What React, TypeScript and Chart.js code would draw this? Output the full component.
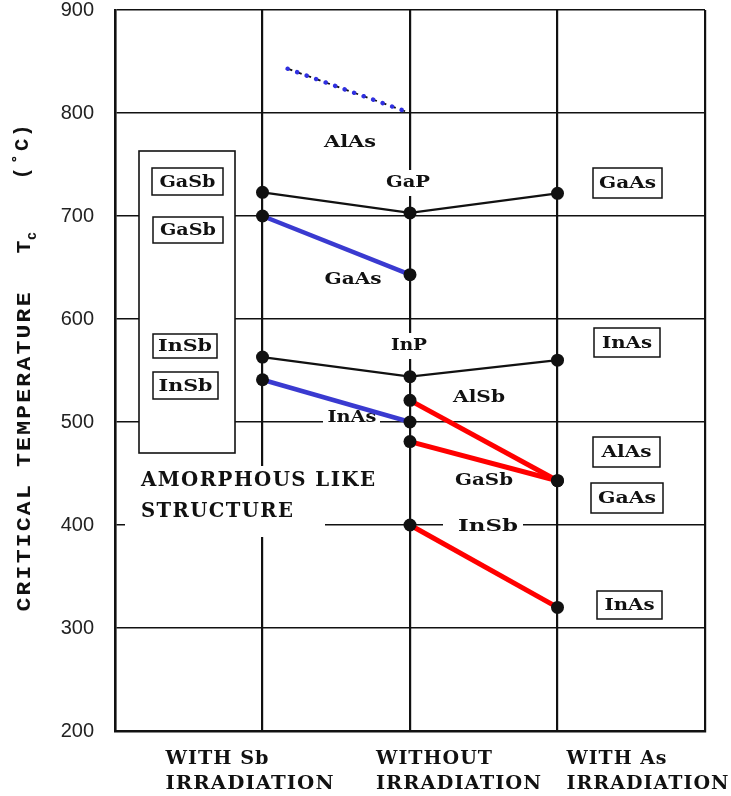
import React, { useEffect, useRef } from "react";
import { Chart, registerables } from "chart.js";

Chart.register(...registerables);

// ---- data ----
const categories = ["WITH Sb|IRRADIATION", "WITHOUT|IRRADIATION", "WITH As|IRRADIATION"];
const categoryX = [0, 1, 2];
const yTicks = [200, 300, 400, 500, 600, 700, 800, 900];

// black connecting lines across all three conditions
const upperBlack = [723, 703, 722]; // GaSb - GaP - GaAs
const lowerBlack = [563, 544, 560]; // InSb - InP - InAs
// blue lines: with Sb -> without
const gaasBlue = [700, 643];
const inasBlue = [541, 500];
// red lines: without -> with As
const alsbRed = [521, 443];
const gasbRed = [481, 443];
const insbRed = [400, 320];
// dotted AlAs extrapolation
const alasDottedX = [0.17, 1];
const alasDottedY = [843, 800];

const pts = (xs: number[], ys: number[]) => xs.map((x, i) => ({ x, y: ys[i] }));

const LABEL_FONT = "bold 17px 'DejaVu Serif'";
const AXIS_FONT = "bold 19px 'DejaVu Serif'";
const INK = "#111";

function fitText(
  ctx: CanvasRenderingContext2D,
  text: string,
  x: number,
  y: number,
  width: number,
  font: string,
  align: "center" | "left" = "center",
  spacing = 0
) {
  ctx.save();
  ctx.font = font;
  (ctx as any).letterSpacing = "0px";
  const w0 = ctx.measureText(text).width;
  const n = text.length;
  const w = w0 + (n - 1) * spacing;
  (ctx as any).letterSpacing = spacing + "px";
  const sx = width / w;
  const left = align === "center" ? x - width / 2 : x;
  ctx.textAlign = "left";
  ctx.textBaseline = "middle";
  ctx.translate(left, y);
  ctx.scale(sx, 1);
  ctx.fillText(text, 0, 0);
  ctx.restore();
}

// annotation layout (pixels)
const boxedLabels: [string, number, number, number, number, number][] = [
  ["GaSb", 152, 168, 223, 195, 56],
  ["GaSb", 153, 217, 223, 243, 56],
  ["InSb", 153, 334, 217, 358, 54],
  ["InSb", 153, 372, 218, 399, 54],
  ["GaAs", 593, 168, 662, 198, 57],
  ["InAs", 594, 328, 660, 357, 50],
  ["AlAs", 593, 437, 660, 467, 50],
  ["GaAs", 591, 483, 663, 513, 58],
  ["InAs", 597, 591, 662, 619, 50],
];
const plainLabels: [string, number, number, number, number[] | null][] = [
  ["AlAs", 350, 143, 52, null],
  ["GaP", 408, 183, 44, [381, 170, 435, 196]],
  ["GaAs", 353, 280, 57, null],
  ["InP", 409, 346, 36, [386, 333, 432, 359]],
  ["InAs", 352, 418, 49, [323, 408, 380, 428]],
  ["AlSb", 479, 398, 52, null],
  ["GaSb", 484, 481, 58, null],
  ["InSb", 488, 527, 60, [443, 512, 523, 535]],
];

const annotationPlugin = {
  id: "annotations",
  beforeDatasetsDraw(chart: any) {
    const ctx: CanvasRenderingContext2D = chart.ctx;
    ctx.save();
    // white block behind amorphous text (hides grid)
    ctx.fillStyle = "#fff";
    ctx.fillRect(125, 466, 200, 71);
    // left outer box
    ctx.fillRect(139, 151, 96, 302);
    ctx.strokeStyle = INK;
    ctx.lineWidth = 1.6;
    ctx.strokeRect(139, 151, 96, 302);
    // label backgrounds
    for (const [, , , , bg] of plainLabels) {
      if (bg) {
        ctx.fillStyle = "#fff";
        ctx.fillRect(bg[0], bg[1], bg[2] - bg[0], bg[3] - bg[1]);
      }
    }
    ctx.fillStyle = INK;
    for (const [t, cx, cy, w] of plainLabels) fitText(ctx, t, cx, cy, w, LABEL_FONT);
    for (const [t, x0, y0, x1, y1, w] of boxedLabels) {
      ctx.fillStyle = "#fff";
      ctx.fillRect(x0, y0, x1 - x0, y1 - y0);
      ctx.strokeStyle = INK;
      ctx.lineWidth = 1.5;
      ctx.strokeRect(x0, y0, x1 - x0, y1 - y0);
      ctx.fillStyle = INK;
      fitText(ctx, t, (x0 + x1) / 2, (y0 + y1) / 2 + 1, w, LABEL_FONT);
    }
    // amorphous text
    fitText(ctx, "AMORPHOUS LIKE", 141, 481, 234, "bold 21px 'DejaVu Serif'", "left", 1.5);
    fitText(ctx, "STRUCTURE", 141, 512, 152, "bold 21px 'DejaVu Serif'", "left", 1.5);
    ctx.restore();
  },
  afterDraw(chart: any) {
    const ctx: CanvasRenderingContext2D = chart.ctx;
    const xs = chart.scales.x;
    ctx.save();
    ctx.fillStyle = INK;
    // category labels
    const offsets = [-97, -34, 9];
    const w1 = [103, 116, 100];
    const w2 = [168, 165, 162];
    categories.forEach((c, i) => {
      const [a, b] = c.split("|");
      const left = xs.getPixelForValue(categoryX[i]) + offsets[i];
      fitText(ctx, a, left, 759, w1[i], AXIS_FONT, "left", 1);
      fitText(ctx, b, left, 784, w2[i], AXIS_FONT, "left", 1);
    });
    // y title
    ctx.translate(25, 0);
    ctx.rotate(-Math.PI / 2);
    const mono = "bold 21px 'Liberation Mono'";
    fitText(ctx, "CRITICAL TEMPERATURE", -452, 0, 319, mono, "center", 2);
    fitText(ctx, "T", -247, 0, 13, mono);
    fitText(ctx, "c", -236, 7, 8, "bold 14px 'Liberation Mono'");
    fitText(ctx, "(˚C)", -152, -2, 55, mono, "center", 2);
    ctx.restore();
  },
};

export default function App() {
  const ref = useRef<HTMLCanvasElement | null>(null);
  useEffect(() => {
    if (!ref.current) return;
    const dotPts = [
      ...pts(categoryX, upperBlack),
      ...pts(categoryX, lowerBlack),
      ...pts([0, 1], gaasBlue),
      ...pts([0, 1], inasBlue),
      ...pts([1, 2], alsbRed),
      ...pts([1, 2], gasbRed),
      ...pts([1, 2], insbRed),
    ];
    const lineDs = (data: any[], color: string, width: number, order: number, extra: any = {}) => ({
      data,
      showLine: true,
      borderColor: color,
      borderWidth: width,
      pointRadius: 0,
      fill: false,
      order,
      ...extra,
    });
    const chart = new Chart(ref.current, {
      type: "scatter",
      data: {
        datasets: [
          { data: dotPts, showLine: false, pointRadius: 6.5, pointBackgroundColor: INK, pointBorderColor: INK, pointBorderWidth: 0, order: 0 } as any,
          lineDs(pts(alasDottedX, alasDottedY), "#3030e0", 4.5, 1, { borderDash: [0.1, 10], borderCapStyle: "round" }),
          lineDs(pts(alasDottedX, alasDottedY), INK, 1.8, 2, { borderDash: [5, 5] }),
          lineDs(pts([1, 2], alsbRed), "#ff0000", 5, 3),
          lineDs(pts([1, 2], gasbRed), "#ff0000", 5, 3),
          lineDs(pts([1, 2], insbRed), "#ff0000", 5, 3),
          lineDs(pts([0, 1], gaasBlue), "#3a3ad0", 4.5, 3),
          lineDs(pts([0, 1], inasBlue), "#3a3ad0", 4.5, 3),
          lineDs(pts(categoryX, upperBlack), INK, 2.2, 4),
          lineDs(pts(categoryX, lowerBlack), INK, 2.2, 4),
        ],
      },
      options: {
        animation: false,
        responsive: false,
        layout: { padding: { top: 10, right: 26, left: 0, bottom: 0 } },
        plugins: { legend: { display: false }, tooltip: { enabled: false }, title: { display: false } },
        scales: {
          x: {
            type: "linear",
            min: -1,
            max: 3,
            ticks: { display: false, stepSize: 1 },
            grid: { color: INK, lineWidth: 2.2, drawTicks: false },
            border: { color: INK, width: 2.5 },
            afterFit: (s: any) => { s.height = 65; s.paddingLeft = 0; s.paddingRight = 0; },
          },
          y: {
            type: "linear",
            min: yTicks[0],
            max: yTicks[yTicks.length - 1],
            afterBuildTicks: (s: any) => { s.ticks = yTicks.map((v) => ({ value: v })); },
            ticks: { font: { family: "'Liberation Sans'", size: 20 }, color: "#222", padding: 21 },
            grid: { color: INK, lineWidth: 1.6, drawTicks: false },
            border: { color: INK, width: 2.5 },
            afterFit: (s: any) => { s.width = 115; s.paddingTop = 0; s.paddingBottom = 0; },
          },
        },
      },
      plugins: [annotationPlugin],
    });
    return () => chart.destroy();
  }, []);
  return (
    <div style={{ position: "fixed", left: 0, top: 0, width: 731, height: 796, background: "#fff" }}>
      <canvas ref={ref} width={731} height={796} style={{ display: "block" }} />
    </div>
  );
}
